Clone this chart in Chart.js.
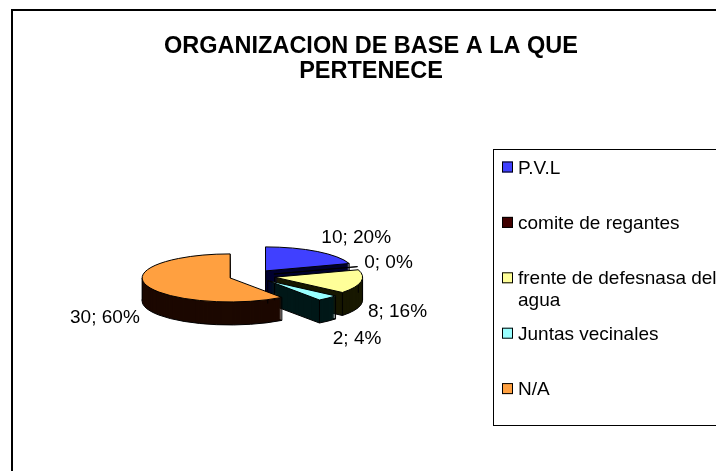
<!DOCTYPE html>
<html>
<head>
<meta charset="utf-8">
<script src="https://cdn.jsdelivr.net/npm/chart.js@4/dist/chart.umd.min.js"></script>
<style>
  html, body { margin: 0; padding: 0; background: #fff; }
  canvas { display: block; }
</style>
</head>
<body>
<canvas id="chart" width="716" height="471"></canvas>
<script>
// ── Data ──
const titleLines = ['ORGANIZACION DE BASE A LA QUE', 'PERTENECE'];
const categories = ['P.V.L', 'comite de regantes', 'frente de defesnasa del agua', 'Juntas vecinales', 'N/A'];
const legendLines = [['P.V.L'], ['comite de regantes'], ['frente de defesnasa del', 'agua'], ['Juntas vecinales'], ['N/A']];
const counts = [10, 0, 8, 2, 30];

// ── Style ──
const topColors = ['#4040FF', '#400000', '#FFFF99', '#99FFFF', '#FFA040'];
const sideColors = ['#000030', '#0A0000', '#181800', '#001818', '#1C0800'];
const FONT = "'Liberation Sans', Arial, sans-serif";
const TILT = 0.273, DEPTH = 23, EXPLODE = 23;

const total = counts.reduce((a, b) => a + b, 0);

// projected point of a slice at (angle, r), dropped by dy
function proj(arc, angle, r, dy) {
  const mid = (arc.startAngle + arc.endAngle) / 2;
  return {
    x: arc.x + Math.cos(mid) * EXPLODE + Math.cos(angle) * r,
    y: arc.y + dy + TILT * (Math.sin(mid) * EXPLODE + Math.sin(angle) * r)
  };
}

function tilted(ctx, arc, dy) {
  const mid = (arc.startAngle + arc.endAngle) / 2;
  ctx.translate(0, arc.y + dy);
  ctx.scale(1, TILT);
  ctx.translate(0, -arc.y);
  ctx.translate(Math.cos(mid) * EXPLODE, Math.sin(mid) * EXPLODE);
}

function slicePath(ctx, arc, dy) {
  ctx.save();
  tilted(ctx, arc, dy);
  ctx.beginPath();
  ctx.moveTo(arc.x, arc.y);
  ctx.arc(arc.x, arc.y, arc.outerRadius, arc.startAngle, arc.endAngle);
  ctx.closePath();
  ctx.restore();
}

const pie3d = {
  id: 'pie3d',
  beforeDatasetsDraw(chart) {
    const ctx = chart.ctx;
    const arcs = chart.getDatasetMeta(0).data;
    ctx.save();
    ctx.lineWidth = 1;
    ctx.strokeStyle = '#000';
    // side walls, stacked from the bottom up
    for (let step = DEPTH; step >= 1; step--) {
      arcs.forEach((arc, i) => {
        slicePath(ctx, arc, step);
        ctx.fillStyle = sideColors[i];
        ctx.fill();
        if (step === DEPTH) ctx.stroke();
      });
    }
    // vertical edges
    arcs.forEach(arc => {
      if (arc.endAngle - arc.startAngle <= 0) return;
      const angs = [arc.startAngle, arc.endAngle];
      [0, Math.PI, 2 * Math.PI].forEach(a => { if (a > arc.startAngle && a < arc.endAngle) angs.push(a); });
      const pts = [[proj(arc, 0, 0, 0), proj(arc, 0, 0, DEPTH)]];
      angs.forEach(a => pts.push([proj(arc, a, arc.outerRadius, 0), proj(arc, a, arc.outerRadius, DEPTH)]));
      pts.forEach(([p, q]) => {
        ctx.beginPath();
        ctx.moveTo(p.x, p.y);
        ctx.lineTo(q.x, q.y);
        ctx.stroke();
      });
    });
    // top faces drawn by the arc elements
    arcs.forEach(arc => {
      ctx.save();
      tilted(ctx, arc, 0);
      arc.draw(ctx);
      ctx.restore();
    });
    arcs.forEach(arc => {
      slicePath(ctx, arc, 0);
      ctx.stroke();
    });
    ctx.restore();
    return false;
  },
  afterDraw(chart) {
    const ctx = chart.ctx;
    const arcs = chart.getDatasetMeta(0).data;
    ctx.save();
    // outer frame
    ctx.strokeStyle = '#000';
    ctx.lineWidth = 2;
    ctx.strokeRect(12, 10, 800, 600);
    // title
    ctx.fillStyle = '#000';
    ctx.font = `bold 23.5px ${FONT}`;
    ctx.textAlign = 'center';
    ctx.textBaseline = 'alphabetic';
    titleLines.forEach((t, i) => ctx.fillText(t, 371, 53 + i * 25));
    // data labels
    ctx.font = `19px ${FONT}`;
    arcs.forEach((arc, i) => {
      const mid = (arc.startAngle + arc.endAngle) / 2;
      const c = Math.cos(mid), s = Math.sin(mid);
      const x = arc.x + (arc.outerRadius + 30) * c;
      const y = arc.y + (arc.outerRadius * TILT + 26) * s + (s > 0 ? DEPTH + 2 : 0);
      ctx.textAlign = c >= 0 ? 'left' : 'right';
      const pct = Math.round(counts[i] / total * 100);
      ctx.fillText(`${counts[i]}; ${pct}%`, x, y + 7);
    });
    // legend
    ctx.lineWidth = 1;
    ctx.strokeRect(493.5, 149.5, 400, 276);
    ctx.textAlign = 'left';
    legendLines.forEach((lines, i) => {
      const base = 173.5 + i * 55.4;
      ctx.fillStyle = topColors[i];
      ctx.fillRect(502, base - 12, 11, 11);
      ctx.strokeRect(502.5, base - 11.5, 10, 10);
      ctx.fillStyle = '#000';
      lines.forEach((l, j) => ctx.fillText(l, 518, base + j * 21.7));
    });
    ctx.restore();
  }
};

new Chart(document.getElementById('chart'), {
  type: 'pie',
  data: {
    labels: categories,
    datasets: [{
      data: counts,
      backgroundColor: topColors,
      borderWidth: 0,
      radius: 88,
      clip: false
    }]
  },
  options: {
    responsive: false,
    animation: false,
    layout: { padding: { left: 12, right: 224, top: 100, bottom: 19 } },
    plugins: { legend: { display: false }, title: { display: false }, tooltip: { enabled: false } }
  },
  plugins: [pie3d]
});
</script>
</body>
</html>
